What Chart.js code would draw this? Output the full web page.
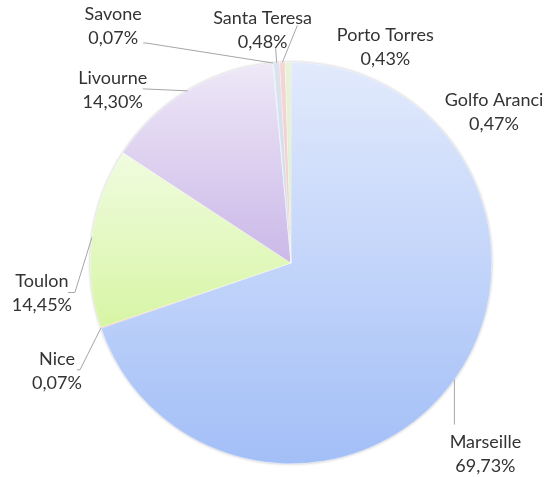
<!DOCTYPE html>
<html>
<head>
<meta charset="utf-8">
<script src="https://cdn.jsdelivr.net/npm/chart.js@4"></script>
<style>
  html, body { margin: 0; padding: 0; background: #fff; }
  #wrap { width: 544px; height: 477px; position: relative; }
</style>
</head>
<body>
<div id="wrap"><canvas id="graficoPorts"></canvas></div>
<script>
const ports = ['Marseille', 'Nice', 'Toulon', 'Livourne', 'Savone', 'Santa Teresa', 'Porto Torres', 'Golfo Aranci'];
const shares = [69.73, 0.07, 14.45, 14.30, 0.07, 0.48, 0.43, 0.47];

// top / bottom gradient stops for each slice
const sliceColors = [
  [[0, '#e2eafc'], [1, '#a3bff7']],
  [[0, '#f6b8b4'], [1, '#ee9a95']],
  [[0.22, '#f0fce0'], [0.65, '#d8f5a6']],
  [[0, '#eee8f7'], [0.5, '#cbb8e8']],
  [[0, '#d3ecf3'], [1, '#b5dcea']],
  [[0, '#dbe3ee'], [1, '#c5d2e4']],
  [[0, '#f5d6d5'], [1, '#eebcbb']],
  [[0, '#e8f3d8'], [1, '#d4e8bb']]
];

// label placement, relative to the slice's outer edge midpoint
const labelLayout = [
  { dx: 31, dy: 63, line: [[0, 45]] },
  { dx: -44, dy: 31, line: [[-21, 42], [-24, 42]] },
  { dx: -50, dy: 44, line: [[-17, 55], [-24, 55]] },
  { dx: -75, dy: -13, line: [[-45, -2]] },
  { dx: -160, dy: -49, line: [[-127, -20], [-130, -20]] },
  { dx: -14, dy: -45, line: [[-1, -15]] },
  { dx: 103, dy: -27, line: [[15, -37]] },
  { dx: 206, dy: 38, line: null }
];

const total = shares.reduce((a, b) => a + b, 0);
const pct = v => (v / total * 100).toFixed(2).replace('.', ',') + '%';

const pieShadow = {
  id: 'pieShadow',
  beforeDatasetsDraw(chart) {
    const arc = chart.getDatasetMeta(0).data[0];
    if (!arc) return;
    const { x, y, outerRadius } = arc.getProps(['x', 'y', 'outerRadius'], true);
    const c = chart.ctx;
    c.save();
    c.shadowColor = 'rgba(0,0,0,0.3)';
    c.shadowBlur = 3;
    c.beginPath();
    c.arc(x, y, outerRadius, 0, Math.PI * 2);
    c.fillStyle = '#fff';
    c.fill();
    c.restore();
  }
};

const pieLabels = {
  id: 'pieLabels',
  afterDatasetsDraw(chart) {
    const c = chart.ctx;
    const meta = chart.getDatasetMeta(0);
    c.save();
    c.font = '18px Lato';
    c.fillStyle = '#333333';
    c.textAlign = 'center';
    c.textBaseline = 'middle';
    c.strokeStyle = '#a6a6a6';
    c.lineWidth = 1;
    meta.data.forEach((arc, i) => {
      const { x, y, startAngle, endAngle, outerRadius } =
        arc.getProps(['x', 'y', 'startAngle', 'endAngle', 'outerRadius'], true);
      const mid = (startAngle + endAngle) / 2;
      const px = x + Math.cos(mid) * outerRadius;
      const py = y + Math.sin(mid) * outerRadius;
      const lay = labelLayout[i];
      if (lay.line) {
        c.beginPath();
        c.moveTo(px, py);
        lay.line.forEach(p => c.lineTo(px + p[0], py + p[1]));
        c.stroke();
      }
      c.fillText(ports[i], px + lay.dx, py + lay.dy);
      c.fillText(pct(shares[i]), px + lay.dx, py + lay.dy + 24);
    });
    c.restore();
  }
};

const ctx = document.getElementById('graficoPorts').getContext('2d');

new Chart(ctx, {
  type: 'pie',
  data: {
    labels: ports,
    datasets: [{
      data: shares,
      backgroundColor: (context) => {
        const { chart, dataIndex } = context;
        const area = chart.chartArea;
        const stops = sliceColors[dataIndex];
        if (!area) return stops[0][1];
        const g = chart.ctx.createLinearGradient(0, area.top, 0, area.bottom);
        stops.forEach(s => g.addColorStop(s[0], s[1]));
        return g;
      },
      borderColor: 'rgba(255,255,255,0.5)',
      borderWidth: 0.5
    }]
  },
  options: {
    responsive: true,
    maintainAspectRatio: false,
    animation: false,
    layout: {
      padding: { left: 90, right: 52, top: 62, bottom: 13 }
    },
    plugins: {
      legend: { display: false },
      tooltip: { enabled: false }
    }
  },
  plugins: [pieShadow, pieLabels]
});
</script>
</body>
</html>
